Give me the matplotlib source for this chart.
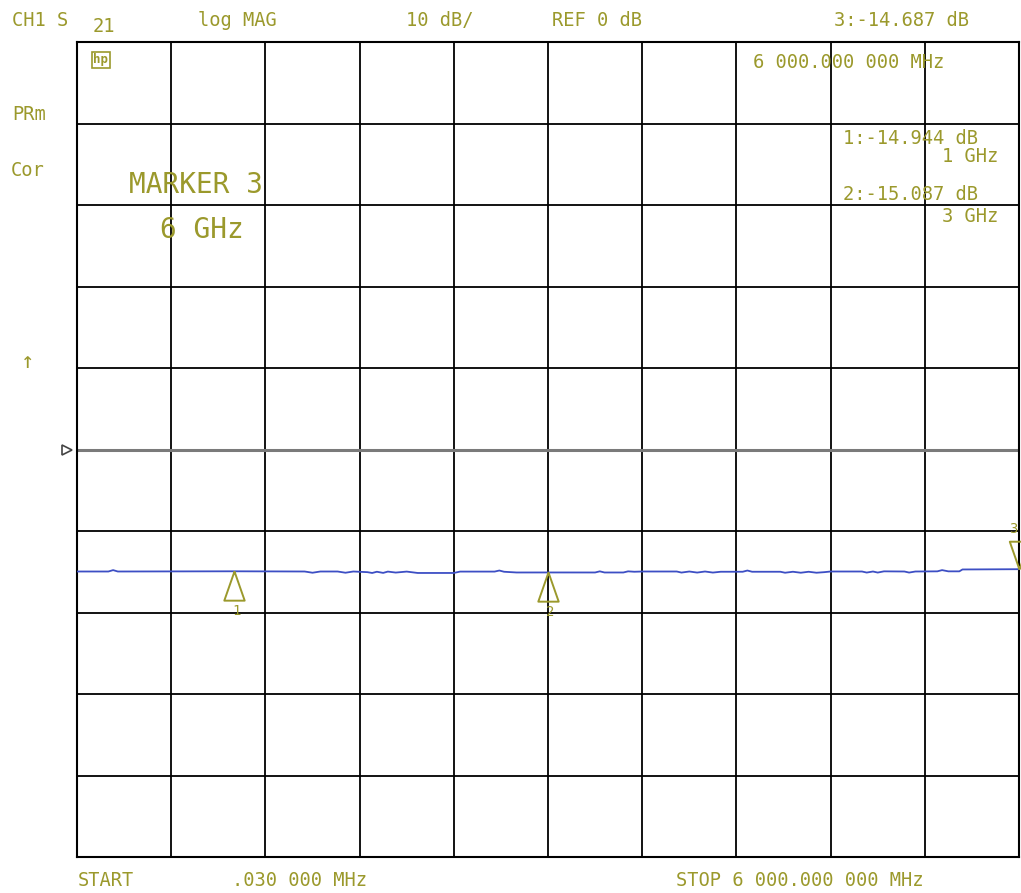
import numpy as np
import matplotlib
matplotlib.use("Agg")
import matplotlib.pyplot as plt
from matplotlib.transforms import blended_transform_factory

#### datos de la traza S21 (frecuencia en GHz, magnitud en dB)
freq = [0.00, 0.20, 0.23, 0.26, 1.00, 1.45, 1.50, 1.55, 1.66, 1.71, 1.76,
        1.85, 1.88, 1.91, 1.95, 1.98, 2.03, 2.10, 2.17, 2.40, 2.44, 2.66,
        2.69, 2.72, 2.80, 3.00, 3.30, 3.33, 3.36, 3.48, 3.51, 3.55, 3.60,
        3.82, 3.85, 3.90, 3.95, 4.00, 4.05, 4.10, 4.24, 4.27, 4.30, 4.48,
        4.51, 4.56, 4.61, 4.66, 4.71, 4.76, 4.80, 5.00, 5.03, 5.07, 5.10,
        5.14, 5.27, 5.30, 5.34, 5.48, 5.51, 5.55, 5.62, 5.64, 6.00]
s21 = [-14.97, -14.97, -14.80, -14.97, -14.944, -14.97, -15.12, -14.97,
       -14.97, -15.12, -14.97, -15.05, -15.15, -15.00, -15.14, -14.98,
       -15.10, -14.98, -15.15, -15.15, -14.98, -14.98, -14.85, -15.00,
       -15.09, -15.087, -15.09, -14.95, -15.09, -15.09, -14.95, -15.00,
       -14.97, -14.97, -15.10, -14.97, -15.10, -14.97, -15.10, -15.00,
       -15.00, -14.85, -15.00, -15.00, -15.12, -15.00, -15.12, -15.00,
       -15.12, -15.05, -14.97, -14.97, -15.10, -14.97, -15.10, -14.95,
       -14.97, -15.10, -14.97, -14.95, -14.80, -14.95, -14.95, -14.72,
       -14.687]

#### marcadores
mk_freq = [1.0, 3.0, 6.0]
mk_val = [-14.944, -15.087, -14.687]
mk_lbl = ["1", "2", "3"]

#### escala
f_start, f_stop = 0.0, 6.0
ref_db = 0
db_div = 10
n_div = 10

W, H = 1021, 893
olive = "#9b992c"
trace_c = "#3d4fc4"
mono = "DejaVu Sans Mono"

fig = plt.figure(figsize=(W / 100, H / 100), dpi=100)
ax = fig.add_axes([77 / W, (H - 857) / H, 942 / W, 815 / H])

ax.set_xlim(f_start, f_stop)
ax.set_ylim(ref_db - db_div * n_div / 2, ref_db + db_div * n_div / 2)
ax.set_xticks(np.linspace(f_start, f_stop, n_div + 1))
ax.set_yticks(np.arange(-50, 51, db_div))
ax.tick_params(length=0, labelbottom=False, labelleft=False)
ax.grid(True, color="black", lw=1.3)
for s in ax.spines.values():
    s.set_color("black")
    s.set_linewidth(1.5)
ax.axhline(ref_db, color="#7a7a7a", lw=2.2, zorder=2)

ax.plot(freq, s21, color=trace_c, lw=1.3, zorder=3)

#### triangulos de marcador (punta en el punto)
up_tri = [(0, 0), (-0.35, -1), (0.35, -1), (0, 0)]
dn_tri = [(0, 0), (-0.35, 1), (0.35, 1), (0, 0)]
for f, v, l in zip(mk_freq, mk_val, mk_lbl):
    if l == "3":
        ax.plot(f, v, marker=dn_tri, ms=40, mfc="none", mec=olive, mew=1.4,
                clip_on=False, zorder=4)
        ax.annotate(l, (f, v), xytext=(-6, 33), textcoords="offset pixels",
                    ha="center", va="bottom", color=olive, fontsize=10,
                    family=mono, annotation_clip=False)
    else:
        ax.plot(f, v, marker=up_tri, ms=42, mfc="none", mec=olive, mew=1.4,
                zorder=4)
        ax.annotate(l, (f, v), xytext=(2, -33), textcoords="offset pixels",
                    ha="center", va="top", color=olive, fontsize=10,
                    family=mono)

#### marca de referencia a la izquierda
tr = blended_transform_factory(ax.transAxes, ax.transData)
ax.plot(-0.0105, ref_db, marker=">", ms=7, mfc="none", mec="#444444",
        mew=1.2, transform=tr, clip_on=False)


def txt(x, y, s, size=13.5, ha="center", **kw):
    fig.text(x / W, 1 - y / H, s, ha=ha, va="center", color=olive,
             fontsize=size, family=mono, **kw)


#### encabezado
txt(40, 20, "CH1 S")
txt(104, 27, "21")
txt(237, 20, "log MAG")
txt(440, 20, "10 dB/")
txt(597, 20, "REF 0 dB")
txt(901, 20, "3:-14.687 dB")

#### lado izquierdo
txt(29, 115, "PRm")
txt(28, 170, "Cor")
txt(28, 362, "↑", size=16)

#### dentro de la grilla
fig.text(101 / W, 1 - 60 / H, "hp", ha="center", va="center", color=olive,
         fontsize=9, family=mono, fontweight="bold",
         bbox=dict(boxstyle="square,pad=0.15", fc="none", ec=olive, lw=1.2))
txt(196, 185, "MARKER 3", size=20)
txt(202, 230, "6 GHz", size=20)
txt(849, 62, "6 000.000 000 MHz")
txt(910, 138, "1:-14.944 dB")
txt(970, 157, "1 GHz")
txt(910, 195, "2:-15.087 dB")
txt(970, 216, "3 GHz")

#### pie
txt(106, 880, "START")
txt(300, 880, ".030 000 MHz")
txt(800, 880, "STOP 6 000.000 000 MHz")

plt.savefig("out.png", dpi=100)
